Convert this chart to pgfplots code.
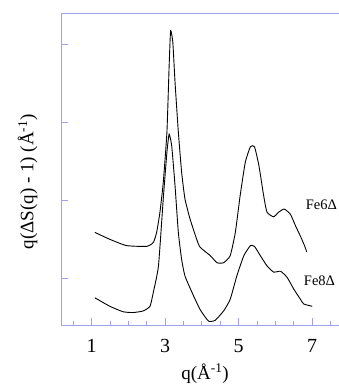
\documentclass[border=0pt]{standalone}
\usepackage{pgfplots}
\pgfplotsset{compat=1.18}
\usepackage{fontspec}
\setmainfont{Liberation Serif}
\definecolor{axblue}{RGB}{160,160,240}
\begin{document}
\begin{tikzpicture}
\begin{axis}[
  scale only axis,
  width=288pt, height=311.4pt,
  xmin=0.17, xmax=8, ymin=0.40, ymax=4.40,
  axis x line*=bottom, axis y line*=left,
  axis line style={axblue, line width=1pt},
  every tick/.style={axblue, line width=0.8pt},
  xtick={1,3,5,7}, xticklabels={1,3,5,7},
  minor xtick={0.5,1.5,2,2.5,3.5,4,4.5,5.5,6,6.5,7.5},
  ytick={1,2,3,4}, yticklabels={},
  tick align=inside,
  major tick length=7pt, minor tick length=4pt,
  tick label style={font=\fontsize{20}{22}\selectfont},
  xticklabel style={yshift=-11pt},
  /pgf/number format/assume math mode=true,
  xlabel={q(Å\textsuperscript{-1})},
  ylabel={q(ΔS(q) - 1) (Å\textsuperscript{-1})},
  label style={font=\fontsize{19}{22}\selectfont},
  xlabel style={at={(axis description cs:0.5,0)}, anchor=north, yshift=-35pt},
  ylabel style={at={(axis description cs:0,0.46)}, anchor=south, yshift=20pt},
  clip=false,
]
\addplot[black, line width=0.9pt, smooth, tension=0.3] coordinates {
(1.09,1.59)(1.5,1.50)(1.95,1.42)(2.5,1.41)(2.68,1.46)(2.77,1.59)(2.86,1.85)
(2.95,2.23)(3.05,2.88)(3.11,3.73)(3.15,4.18)(3.21,4.03)(3.27,3.52)(3.36,2.88)
(3.45,2.36)(3.54,2.02)(3.68,1.76)(3.86,1.50)(3.95,1.40)(4.23,1.29)(4.41,1.20)
(4.59,1.20)(4.77,1.29)(4.91,1.59)(5.04,2.06)(5.18,2.49)(5.32,2.69)(5.43,2.69)
(5.55,2.45)(5.68,2.06)(5.77,1.85)(5.95,1.79)(6.09,1.85)(6.24,1.89)(6.41,1.82)
(6.55,1.67)(6.68,1.54)(6.79,1.42)(6.85,1.34)
};
\addplot[black, line width=0.9pt, smooth, tension=0.3] coordinates {
(1.09,0.75)(1.5,0.64)(1.86,0.57)(2.13,0.56)(2.4,0.58)(2.59,0.64)(2.68,0.82)
(2.82,1.16)(2.95,2.02)(3.05,2.62)(3.11,2.85)(3.18,2.70)(3.27,2.19)(3.36,1.59)
(3.45,1.24)(3.54,1.03)(3.73,0.82)(3.95,0.60)(4.18,0.45)(4.36,0.46)(4.59,0.58)
(4.77,0.73)(4.95,1.03)(5.14,1.29)(5.32,1.42)(5.43,1.41)(5.59,1.29)(5.77,1.16)
(5.95,1.08)(6.14,1.09)(6.32,1.01)(6.5,0.86)(6.68,0.73)(6.77,0.67)(7.0,0.64)
};
\node[anchor=west, inner sep=0pt, font=\fontsize{14.5}{16}\selectfont] at (axis cs:6.82,1.95) {Fe6Δ};
\node[anchor=west, inner sep=0pt, font=\fontsize{14.5}{16}\selectfont] at (axis cs:6.77,0.97) {Fe8Δ};
\draw[axblue, line width=1pt] (axis cs:0.17,4.40) -- (axis cs:8,4.40);
\end{axis}
\pgfresetboundingbox
\path (0pt,-65pt) ++(-61pt,0pt) rectangle ++(338pt,390pt);
\end{tikzpicture}
\end{document}
